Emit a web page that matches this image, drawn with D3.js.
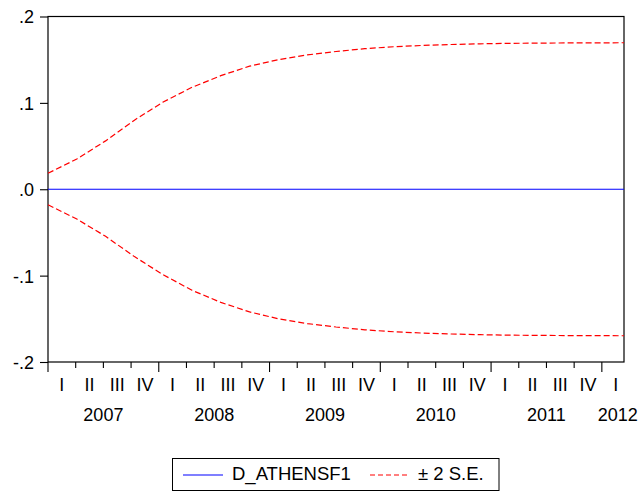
<!DOCTYPE html>
<html>
<head>
<meta charset="utf-8">
<script src="https://cdn.jsdelivr.net/npm/d3@7"></script>
<style>
  html, body { margin: 0; padding: 0; background: #fff; }
  svg text { font-family: "Liberation Sans", Arial, sans-serif; fill: #000; }
</style>
</head>
<body>
<svg id="chart" width="643" height="493"></svg>
<script>
// Quarterly forecast of D_ATHENSF1 with ±2 standard-error bands, 2007Q1–2012Q1
const quarters = ["I","II","III","IV","I","II","III","IV","I","II","III","IV",
                  "I","II","III","IV","I","II","III","IV","I"];
const years = ["2007","2008","2009","2010","2011","2012"];
const forecast = [0,0,0,0,0,0,0,0,0,0,0,0,0,0,0,0,0,0,0,0,0];
const upperBand = [0.0185, 0.035, 0.056, 0.080, 0.101, 0.118, 0.1315, 0.1425, 0.150, 0.1555,
                   0.1595, 0.1627, 0.165, 0.1665, 0.1676, 0.1684, 0.1689, 0.1692, 0.1694, 0.1695, 0.1696];
const lowerBand = [-0.0180, -0.0345, -0.0545, -0.078, -0.099, -0.117, -0.131, -0.142, -0.150, -0.1555,
                   -0.1595, -0.1627, -0.165, -0.1665, -0.1676, -0.1684, -0.1689, -0.1692, -0.1694, -0.1695, -0.1696];
const yTicks = [0.2, 0.1, 0.0, -0.1, -0.2];
const yTickLabels = [".2", ".1", ".0", "-.1", "-.2"];
const legendLabels = ["D_ATHENSF1", "\u00B1 2 S.E."];

const svg = d3.select("#chart");
const plotL = 48, plotR = 624, plotT = 16.5, plotB = 362;

// data positions span the full frame; the calendar axis uses quarter widths
const x = d3.scaleLinear().domain([0, forecast.length - 1]).range([plotL, plotR]);
const xq = d3.scaleLinear().domain([0, 20.8]).range([plotL, plotR]);
const y = d3.scaleLinear().domain([-0.2, 0.2]).range([plotB, plotT]);

// frame
svg.append("rect")
  .attr("x", plotL).attr("y", plotT)
  .attr("width", plotR - plotL).attr("height", plotB - plotT)
  .attr("fill", "none").attr("stroke", "#000").attr("stroke-width", 1.2);

// y axis
const yAxis = d3.axisLeft(y).tickValues(yTicks).tickSize(8).tickPadding(6)
  .tickFormat((d, i) => yTickLabels[i]);
const gy = svg.append("g").attr("transform", `translate(${plotL},0)`).call(yAxis);
gy.select(".domain").remove();
gy.selectAll("line").attr("stroke", "#000").attr("stroke-width", 1.1);
gy.selectAll("text").style("font-size", "18px").attr("font-family", null).attr("dy", "0.36em");

// x axis: quarter boundaries, longer at year starts
const bounds = d3.range(0, quarters.length);
const gx = svg.append("g");
gx.selectAll("line").data(bounds).join("line")
  .attr("x1", d => xq(d)).attr("x2", d => xq(d))
  .attr("y1", plotB).attr("y2", d => plotB + (d % 4 === 0 ? 10 : 6))
  .attr("stroke", "#000").attr("stroke-width", 1.1);
gx.selectAll("text.q").data(quarters).join("text").attr("class", "q")
  .attr("x", (d, i) => xq(i + 0.5)).attr("y", 391)
  .attr("text-anchor", "middle").style("font-size", "18px").text(d => d);
gx.selectAll("text.yr").data(years).join("text").attr("class", "yr")
  .attr("x", (d, i) => i < 5 ? xq(i * 4 + 2) : xq(20.5) + 2).attr("y", 421)
  .attr("text-anchor", "middle").style("font-size", "18px").text(d => d);

// series
const line = d3.line().x((d, i) => x(i)).y(d => y(d));
svg.append("path").datum(forecast).attr("d", line)
  .attr("fill", "none").attr("stroke", "#0000ff").attr("stroke-width", 1.2);
[upperBand, lowerBand].forEach(s => {
  svg.append("path").datum(s).attr("d", line)
    .attr("fill", "none").attr("stroke", "#ff0000").attr("stroke-width", 1.2)
    .attr("stroke-dasharray", "6,3");
});

// legend
const lg = svg.append("g");
lg.append("rect").attr("x", 172.5).attr("y", 458.5).attr("width", 326.5).attr("height", 32)
  .attr("fill", "#fff").attr("stroke", "#000").attr("stroke-width", 1);
lg.append("line").attr("x1", 183).attr("x2", 223).attr("y1", 475).attr("y2", 475)
  .attr("stroke", "#0000ff").attr("stroke-width", 1.2);
lg.append("text").attr("x", 232).attr("y", 480).style("font-size", "18.5px").text(legendLabels[0]);
lg.append("line").attr("x1", 370).attr("x2", 410).attr("y1", 475).attr("y2", 475)
  .attr("stroke", "#ff0000").attr("stroke-width", 1.2).attr("stroke-dasharray", "5,3");
lg.append("text").attr("x", 418).attr("y", 480).style("font-size", "18.5px").text(legendLabels[1]);
</script>
</body>
</html>
